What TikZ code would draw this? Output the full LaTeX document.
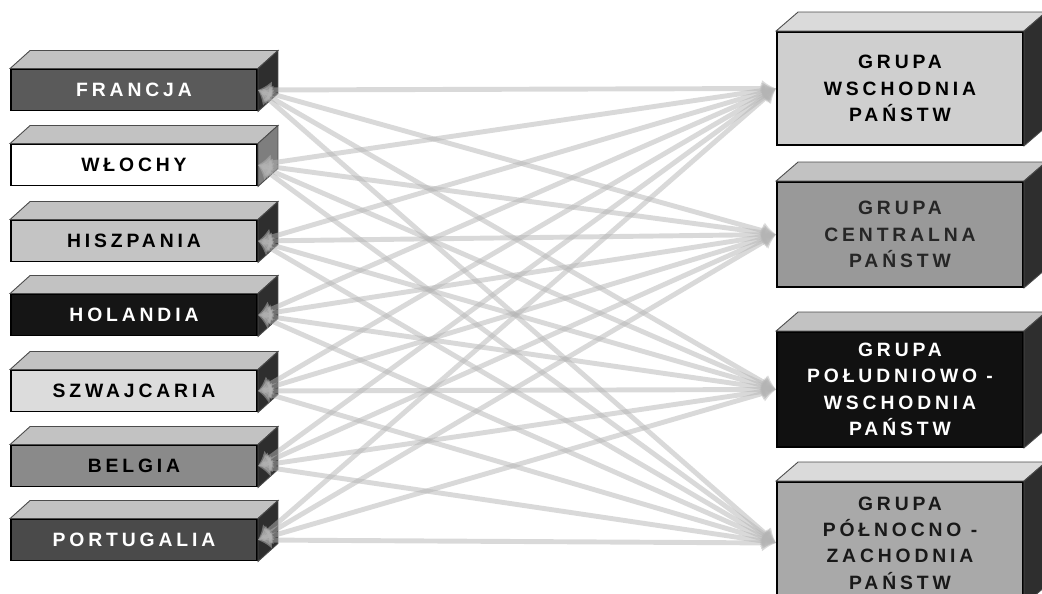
\documentclass[tikz,border=0pt]{standalone}
\usepackage{fontspec}
\setmainfont{Liberation Sans}
\newfontfamily\boxfont{Liberation Sans}[LetterSpace=20]
\usetikzlibrary{arrows.meta, calc}
\definecolor{ctop}{HTML}{C2C2C2}
\definecolor{ctoplight}{HTML}{DADADA}
\definecolor{cside}{HTML}{2E2E2E}
\definecolor{csidegrey}{HTML}{7E7E7E}
\definecolor{clink}{HTML}{B4B4B4}
\definecolor{cfr}{HTML}{5A5A5A}
\definecolor{chi}{HTML}{C4C4C4}
\definecolor{cho}{HTML}{151515}
\definecolor{csz}{HTML}{DCDCDC}
\definecolor{cbe}{HTML}{8A8A8A}
\definecolor{cpo}{HTML}{4A4A4A}
\definecolor{cgw}{HTML}{CFCFCF}
\definecolor{cgc}{HTML}{999999}
\definecolor{cgp}{HTML}{111111}
\definecolor{cgz}{HTML}{A9A9A9}
\tikzset{
  every picture/.style={x=0.02cm, y=-0.02cm},
  lbox/.style={draw=black, line width=1.1pt, fill=#1, minimum width=4.92cm, minimum height=0.82cm,
    inner sep=0pt, font=\boxfont\bfseries\fontsize{11}{15}\selectfont},
  rbox/.style={draw=black, line width=1.1pt, fill=#1, minimum width=4.92cm, align=center,
    inner sep=0pt, font=\boxfont\bfseries\fontsize{11}{15}\selectfont},
  face/.style={fill=#1, draw=black!70, line width=0.5pt},
  link/.style={draw=clink, line width=2.8pt, opacity=0.5,
    {Latex[length=8pt,width=10pt]}-{Latex[length=8pt,width=10pt]}},
}

\begin{document}
\begin{tikzpicture}
  \useasboundingbox (0,0) rectangle (1042,594);
  \clip (0,0) rectangle (1042,594);
  % countries
  \foreach \t/\f/\c/\y [count=\k] in {FRANCJA/cfr/white/90, WŁOCHY/white/black/165, HISZPANIA/chi/black/241,
    HOLANDIA/cho/white/315, SZWAJCARIA/csz/black/391, BELGIA/cbe/black/466, PORTUGALIA/cpo/white/540}
    \node[lbox=\f, text=\c] (l\k) at (134,\y) {\t};
  \foreach \k/\s in {1/cside, 2/csidegrey, 3/cside, 4/cside, 5/cside, 6/cside, 7/cside} {
    \draw[face=ctop] (l\k.north west) -- ++(20,-18) -- ($(l\k.north east)+(20,-18)$) -- (l\k.north east) -- cycle;
    \draw[face=\s] (l\k.north east) -- ++(20,-18) -- ($(l\k.south east)+(20,-18)$) -- (l\k.south east) -- cycle;
  }
  % groups
  \node[rbox=cgw, text=black, minimum height=2.26cm] (r1) at (900,88.5) {GRUPA\\WSCHODNIA\\PAŃSTW};
  \node[rbox=cgc, text=black!85, minimum height=2.1cm] (r2) at (900,234.5) {GRUPA\\CENTRALNA\\PAŃSTW};
  \node[rbox=cgp, text=white, minimum height=2.3cm] (r3) at (900,389.5) {GRUPA\\POŁUDNIOWO -\\WSCHODNIA\\PAŃSTW};
  \node[rbox=cgz, text=black!90, minimum height=2.44cm] (r4) at (900,543) {GRUPA\\PÓŁNOCNO -\\ZACHODNIA\\PAŃSTW};
  \foreach \k/\tp in {1/ctoplight, 2/ctop, 3/ctop, 4/ctoplight} {
    \draw[face=\tp] (r\k.north west) -- ++(22,-19) -- ($(r\k.north east)+(22,-19)$) -- (r\k.north east) -- cycle;
    \draw[face=cside] (r\k.north east) -- ++(22,-19) -- ($(r\k.south east)+(22,-19)$) -- (r\k.south east) -- cycle;
  }
  % every country to every group
  \foreach \k in {1,...,7} \foreach \j in {1,...,4} \draw[link] (l\k.east) -- (r\j.west);
\end{tikzpicture}
\end{document}
